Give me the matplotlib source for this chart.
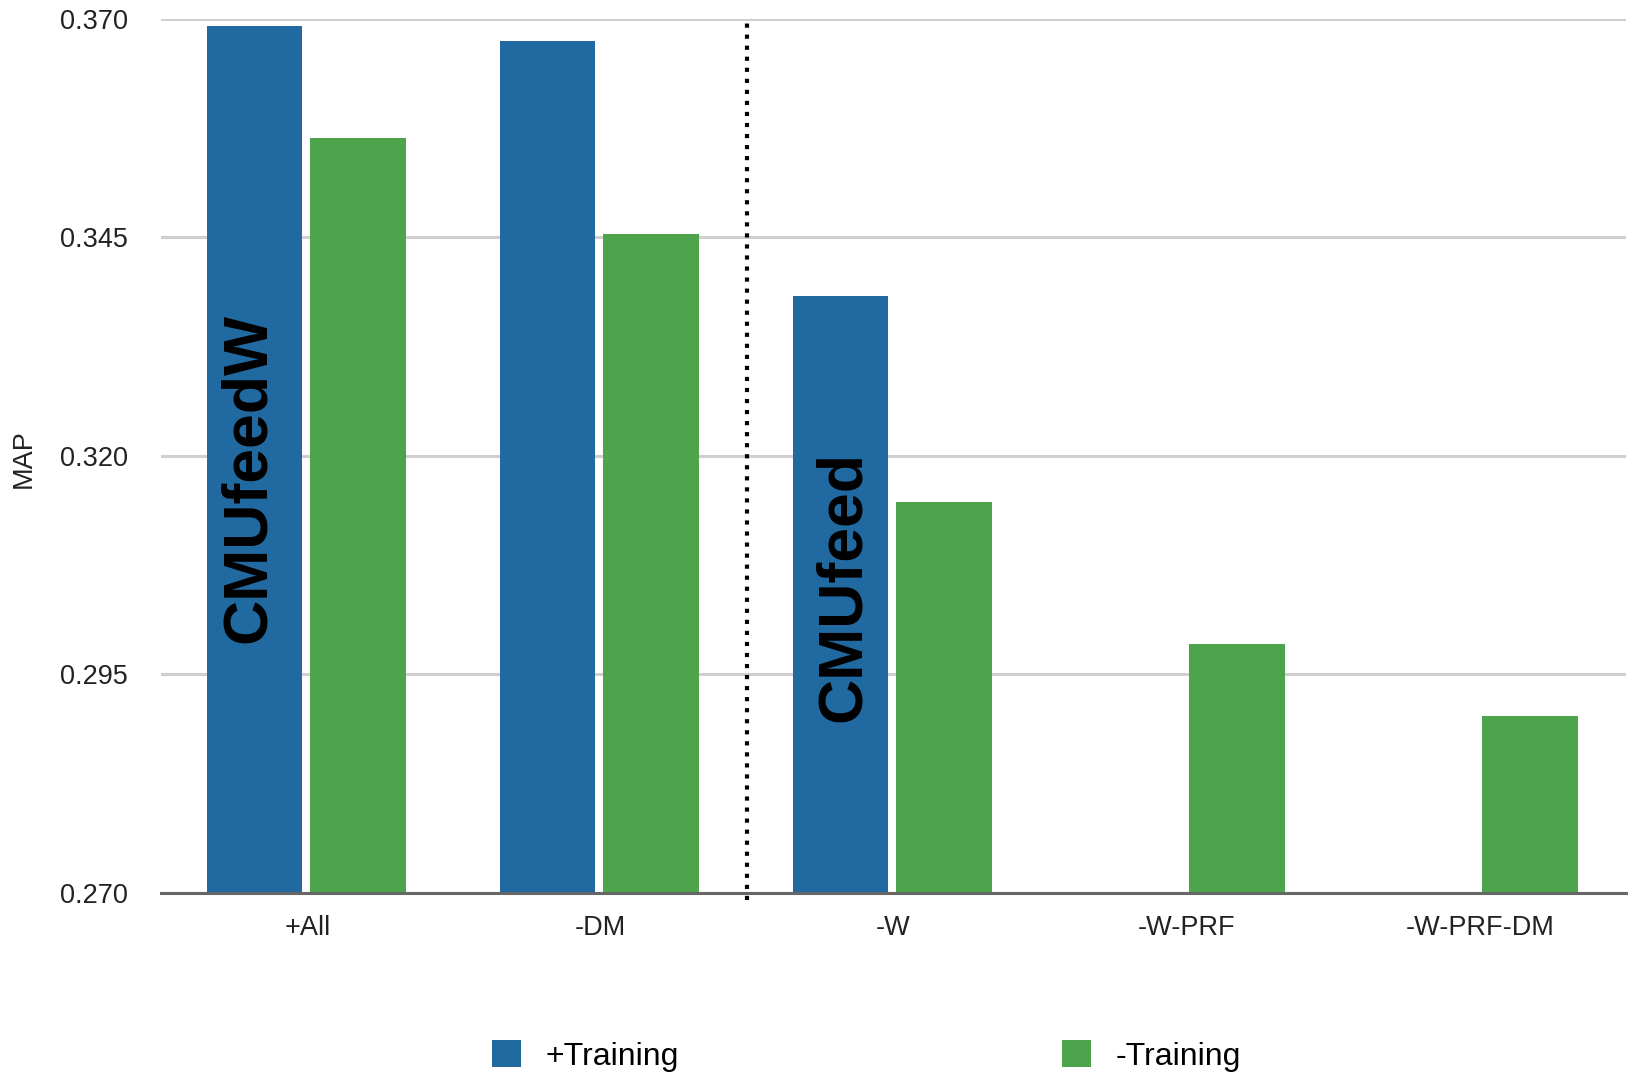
import numpy as np
import matplotlib.pyplot as plt

plt.rcParams['font.family'] = ['Liberation Sans', 'DejaVu Sans']

# data
categories = ['+All', '-DM', '-W', '-W-PRF', '-W-PRF-DM']
with_training = [0.3692, 0.3674, 0.3383, np.nan, np.nan]
without_training = [0.3563, 0.3454, 0.3147, 0.2985, 0.2902]
yticks = [0.270, 0.295, 0.320, 0.345, 0.370]

blue = '#2169a1'
green = '#4ea44c'

fig = plt.figure(figsize=(16.29, 10.72), dpi=100)
ax = fig.add_axes([0.0988, 0.167, 0.8995, 0.8156])

x = np.arange(len(categories))
w = 0.325
ax.bar(x - 0.18, with_training, w, color=blue, label='+Training', zorder=3)
ax.bar(x + 0.172, without_training, w, color=green, label='-Training', zorder=3)

ax.set_ylim(0.270, 0.370)
ax.set_xlim(-0.5, len(categories) - 0.5)
ax.set_yticks(yticks)
ax.set_yticklabels([f'{t:.3f}' for t in yticks])
ax.set_xticks(x)
ax.set_xticklabels(categories)
ax.tick_params(length=0, labelsize=19.5, colors='#222222')
ax.tick_params(axis='y', pad=24)
ax.tick_params(axis='x', pad=16)

ax.yaxis.grid(True, color='#cfcfcf', linewidth=2.2, zorder=0)
ax.set_axisbelow(True)
for s in ['left', 'right', 'top']:
    ax.spines[s].set_visible(False)
ax.spines['bottom'].set_color('#666666')
ax.spines['bottom'].set_linewidth(2.2)
ax.spines['bottom'].set_zorder(4)

ax.set_ylabel('MAP', fontsize=19.5, color='#222222')
ax.yaxis.set_label_coords(-0.0846, 0.497)

# separator between the two systems
ax.axvline(1.5, ymin=-0.008, ymax=1.0, color='black', linestyle=':',
           linewidth=3, clip_on=False, zorder=5)

ax.text(-0.2, 0.3175, 'CMUfeedW', rotation=90, ha='center', va='center',
        fontsize=45, fontweight='bold', color='black', zorder=6)
ax.text(1.83, 0.305, 'CMUfeed', rotation=90, ha='center', va='center',
        fontsize=45, fontweight='bold', color='black', zorder=6)

fig.legend(loc='center', bbox_to_anchor=(0.532, 0.015), ncol=2, frameon=False,
           fontsize=23, handlelength=0.9, handleheight=0.9, handletextpad=0.78,
           columnspacing=12, borderpad=0)

fig.savefig('out.png', dpi=100)
